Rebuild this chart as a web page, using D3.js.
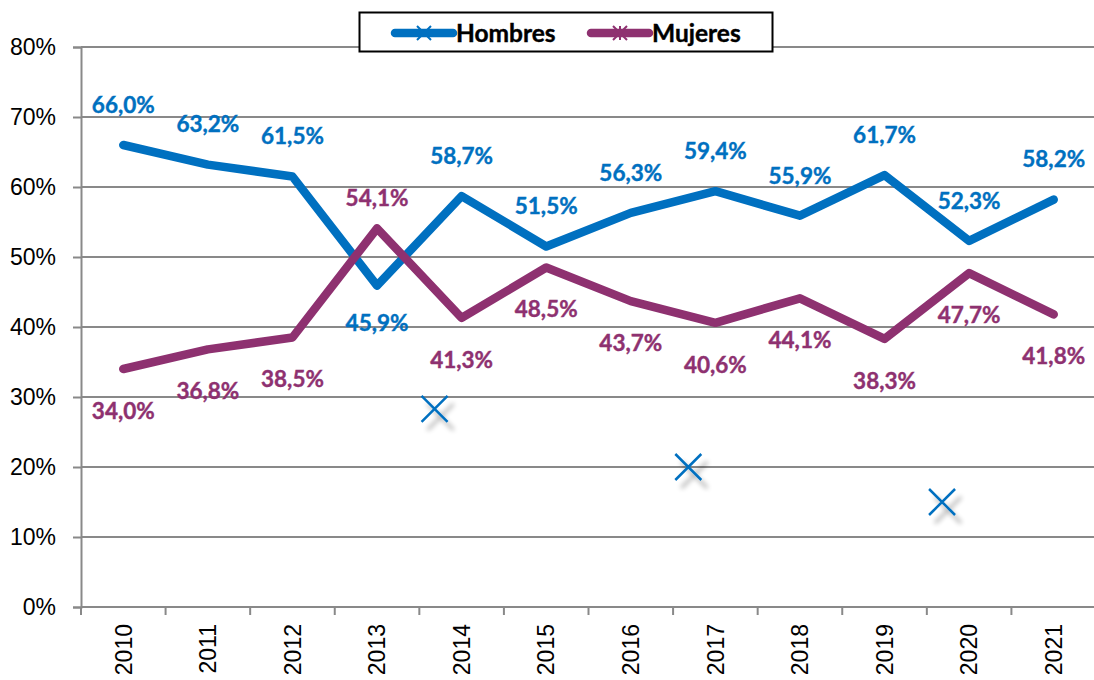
<!DOCTYPE html>
<html>
<head>
<meta charset="utf-8">
<script src="https://cdn.jsdelivr.net/npm/d3@7"></script>
<style>
    body { margin: 0; background: #fff; }
    svg { display: block; }
</style>
</head>
<body>
<div class="chart-container"></div>
<script>
// chart data
const years = ["2010", "2011", "2012", "2013", "2014", "2015", "2016", "2017", "2018", "2019", "2020", "2021"];
const hombres = [66.0, 63.2, 61.5, 45.9, 58.7, 51.5, 56.3, 59.4, 55.9, 61.7, 52.3, 58.2];
const mujeres = [34.0, 36.8, 38.5, 54.1, 41.3, 48.5, 43.7, 40.6, 44.1, 38.3, 47.7, 41.8];
// where each data label sits relative to its point
const hombresLabelPos = ["a", "a", "a", "b", "a", "a", "a", "a", "a", "a", "a", "a"];
const mujeresLabelPos = ["b", "b", "b", "a", "b", "b", "b", "b", "b", "b", "b", "b"];
// stray marker points (category index, value)
const strayIndex = [3.68, 6.68, 9.68];
const strayValue = [28.3, 20.0, 15.0];
const yTicks = [0, 10, 20, 30, 40, 50, 60, 70, 80];

const w = 1094;
const h = 680;
const plotLeft = 81;
const plotTop = 47;
const plotBottom = 607;
const plotRight = 1096;

const blue = "#0070C0";
const purple = "#8E3170";
const grid = "#898989";

const svg = d3.select(".chart-container")
    .append("svg")
    .attr("width", w)
    .attr("height", h);

const defs = svg.append("defs");
const shadow = defs.append("filter")
    .attr("id", "shadow")
    .attr("x", "-50%").attr("y", "-50%")
    .attr("width", "200%").attr("height", "200%");
shadow.append("feGaussianBlur").attr("in", "SourceAlpha").attr("stdDeviation", 2.5).attr("result", "b");
shadow.append("feOffset").attr("in", "b").attr("dx", 6).attr("dy", 8).attr("result", "o");
shadow.append("feComponentTransfer").attr("in", "o").attr("result", "s")
    .append("feFuncA").attr("type", "linear").attr("slope", 0.35);
const merge = shadow.append("feMerge");
merge.append("feMergeNode").attr("in", "s");
merge.append("feMergeNode").attr("in", "SourceGraphic");

const xScale = d3.scaleBand()
    .domain(years)
    .range([plotLeft, plotRight])
    .paddingInner(0)
    .paddingOuter(0);

const xIndex = d3.scaleLinear()
    .domain([0, years.length])
    .range([plotLeft, plotRight]);

const yScale = d3.scaleLinear()
    .domain([0, 80])
    .range([plotBottom, plotTop]);

const cx = (d) => xScale(d) + xScale.bandwidth() / 2;

// gridlines
svg.append("g")
    .selectAll("line")
    .data(yTicks.filter(t => t > 0))
    .enter()
    .append("line")
    .attr("x1", plotLeft)
    .attr("x2", plotRight)
    .attr("y1", d => yScale(d))
    .attr("y2", d => yScale(d))
    .attr("stroke", grid)
    .attr("stroke-width", 2);

// y axis
const yAxis = d3.axisLeft(yScale)
    .tickValues(yTicks)
    .tickSize(8)
    .tickPadding(17)
    .tickFormat(d => d + "%");

const yG = svg.append("g")
    .attr("transform", `translate(${plotLeft},0)`)
    .call(yAxis);
yG.select(".domain").attr("stroke", grid).attr("stroke-width", 2);
yG.selectAll(".tick line").attr("stroke", grid).attr("stroke-width", 2);
yG.selectAll(".tick text")
    .attr("fill", "#000")
    .style("font-family", "'Liberation Sans', Arial, sans-serif")
    .style("font-size", "23px");

// x axis
const xAxis = d3.axisBottom(xScale).tickSize(0).tickPadding(0);
const xG = svg.append("g")
    .attr("transform", `translate(0,${plotBottom})`)
    .call(xAxis);
xG.select(".domain").remove();
xG.selectAll(".tick text")
    .attr("fill", "#000")
    .attr("transform", "rotate(-90)")
    .attr("text-anchor", "end")
    .attr("x", -17)
    .attr("y", 0)
    .attr("dy", "0.36em")
    .style("font-family", "'Liberation Sans', Arial, sans-serif")
    .style("font-size", "23px");

svg.append("line")
    .attr("x1", plotLeft).attr("x2", plotRight)
    .attr("y1", plotBottom).attr("y2", plotBottom)
    .attr("stroke", grid).attr("stroke-width", 2);

svg.append("g")
    .selectAll("line")
    .data(d3.range(years.length + 1))
    .enter()
    .append("line")
    .attr("x1", d => xIndex(d))
    .attr("x2", d => xIndex(d))
    .attr("y1", plotBottom)
    .attr("y2", plotBottom + 8)
    .attr("stroke", grid)
    .attr("stroke-width", 2);

// lines
const line = d3.line()
    .x((d, i) => cx(years[i]))
    .y(d => yScale(d));

const series = [
    { name: "Hombres", values: hombres, color: blue, pos: hombresLabelPos, above: -40, below: 37 },
    { name: "Mujeres", values: mujeres, color: purple, pos: mujeresLabelPos, above: -30, below: 42 }
];

series.forEach(s => {
    svg.append("path")
        .datum(s.values)
        .attr("d", line)
        .attr("fill", "none")
        .attr("stroke", s.color)
        .attr("stroke-width", 8.5)
        .attr("stroke-linecap", "round")
        .attr("stroke-linejoin", "round");
});

// data labels
series.forEach(s => {
    svg.append("g")
        .selectAll("text")
        .data(s.values)
        .enter()
        .append("text")
        .attr("x", (d, i) => cx(years[i]))
        .attr("y", (d, i) => yScale(d) + (s.pos[i] === "a" ? s.above : s.below))
        .attr("dy", "0.35em")
        .attr("text-anchor", "middle")
        .attr("fill", s.color)
        .attr("stroke", s.color)
        .attr("stroke-width", 0.4)
        .style("font-family", "Lato, 'Open Sans', sans-serif")
        .style("font-weight", "bold")
        .style("font-size", "22.5px")
        .text(d => d.toFixed(1).replace(".", ",") + "%");
});

// stray markers
const mk = 13;
svg.append("g")
    .selectAll("path")
    .data(strayValue)
    .enter()
    .append("path")
    .attr("d", (d, i) => {
        const x = xIndex(strayIndex[i] + 0.5);
        const y = yScale(d);
        return `M${x - mk},${y - mk}L${x + mk},${y + mk}M${x - mk},${y + mk}L${x + mk},${y - mk}`;
    })
    .attr("stroke", blue)
    .attr("stroke-width", 2.5)
    .attr("fill", "none")
    .attr("filter", "url(#shadow)");

// legend
const legend = svg.append("g");
legend.append("rect")
    .attr("x", 359.5)
    .attr("y", 12.5)
    .attr("width", 413)
    .attr("height", 39)
    .attr("fill", "#fff")
    .attr("stroke", "#000")
    .attr("stroke-width", 2);

const legendItems = [
    { name: "Hombres", color: blue, x: 395, star: false },
    { name: "Mujeres", color: purple, x: 591, star: true }
];
legendItems.forEach(item => {
    const ly = 33;
    legend.append("line")
        .attr("x1", item.x).attr("x2", item.x + 58)
        .attr("y1", ly).attr("y2", ly)
        .attr("stroke", item.color)
        .attr("stroke-width", 8.5)
        .attr("stroke-linecap", "round");
    const mx = item.x + 29;
    const m = 7;
    let d = `M${mx - m},${ly - m}L${mx + m},${ly + m}M${mx - m},${ly + m}L${mx + m},${ly - m}`;
    if (item.star) d += `M${mx},${ly - m}L${mx},${ly + m}`;
    legend.append("path")
        .attr("d", d)
        .attr("stroke", item.color)
        .attr("stroke-width", 2);
    legend.append("text")
        .attr("x", item.x + 61)
        .attr("y", ly)
        .attr("dy", "0.36em")
        .attr("fill", "#000")
        .attr("stroke", "#000")
        .attr("stroke-width", 0.4)
        .style("font-family", "Lato, 'Open Sans', sans-serif")
        .style("font-weight", "bold")
        .style("font-size", "24.5px")
        .text(item.name);
});
</script>
</body>
</html>
